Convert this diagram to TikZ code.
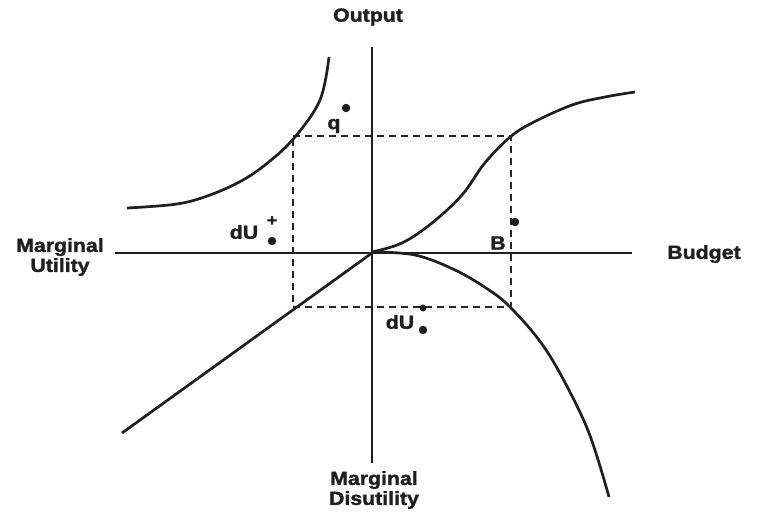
\documentclass[tikz,border=0pt]{standalone}
\usepackage{fontspec}
\newfontfamily\lab[FakeStretch=1.12,FakeBold=1.5]{Liberation Sans Bold}
\begin{document}
\begin{tikzpicture}[x=1pt,y=-1pt,
  axis/.style={line width=2.9pt,black!88},
  curve/.style={line width=2.7pt,black!88},
  guide/.style={line width=1.8pt,black!85,dash pattern=on 7pt off 5pt},
  lbl/.style={font=\lab\fontsize{19}{21}\selectfont,text=black!88,inner sep=0pt,align=center},
  dotm/.style={circle,fill=black!88,inner sep=0pt,minimum size=8.5pt}]
\useasboundingbox (0,0) rectangle (761,516);
% guides
\draw[guide] (293,136) -- (511,136) -- (511,307) -- (293,307) -- cycle;
% axes
\coordinate (O) at (372,253);
\draw[axis] (372,47) -- (372,463);
\draw[axis] (115,253) -- (632,253);
% curves
\draw[curve] plot[smooth,tension=0.6] coordinates {(329,57) (320,100) (295,137) (270,161) (243,180) (210,195) (177,204) (127,208)};
\draw[curve] plot[smooth,tension=0.6] coordinates {(372,252) (402,243) (432,223) (462,195) (484,164) (509,138) (532,123) (572,105) (605,97) (635,92)};
\draw[curve] (O) -- (122,433);
\draw[curve] plot[smooth,tension=0.6] coordinates {(372,252) (415,255) (455,270) (489,290) (510,307) (539,340) (562,377) (589,433) (609,497)};
% labels
\node[lbl] (out) at (368,17) {Output};
\node[lbl] (bud) at (704,254) {Budget};
\node[lbl] (mu) at (60,257) {Marginal\\[-1pt]Utility};
\node[lbl] (md) at (374,490) {Marginal\\[-1pt]Disutility};
\node[lbl] (q) at (334,126) {q};
\node[dotm] (qs) at (346,108) {};
\node[lbl] (du1) at (244,232) {dU};
\node[lbl,font=\lab\fontsize{16}{16}\selectfont] (dup) at (272,221) {+};
\node[dotm] (dus) at (272,241) {};
\node[lbl] (b) at (498,243) {B};
\node[dotm] (bs) at (515,222) {};
\node[lbl] (du2) at (400,322) {dU};
\node[dotm,minimum size=7pt] (dm) at (423,308) {};
\node[dotm] (ds) at (423,330) {};
\end{tikzpicture}
\end{document}
